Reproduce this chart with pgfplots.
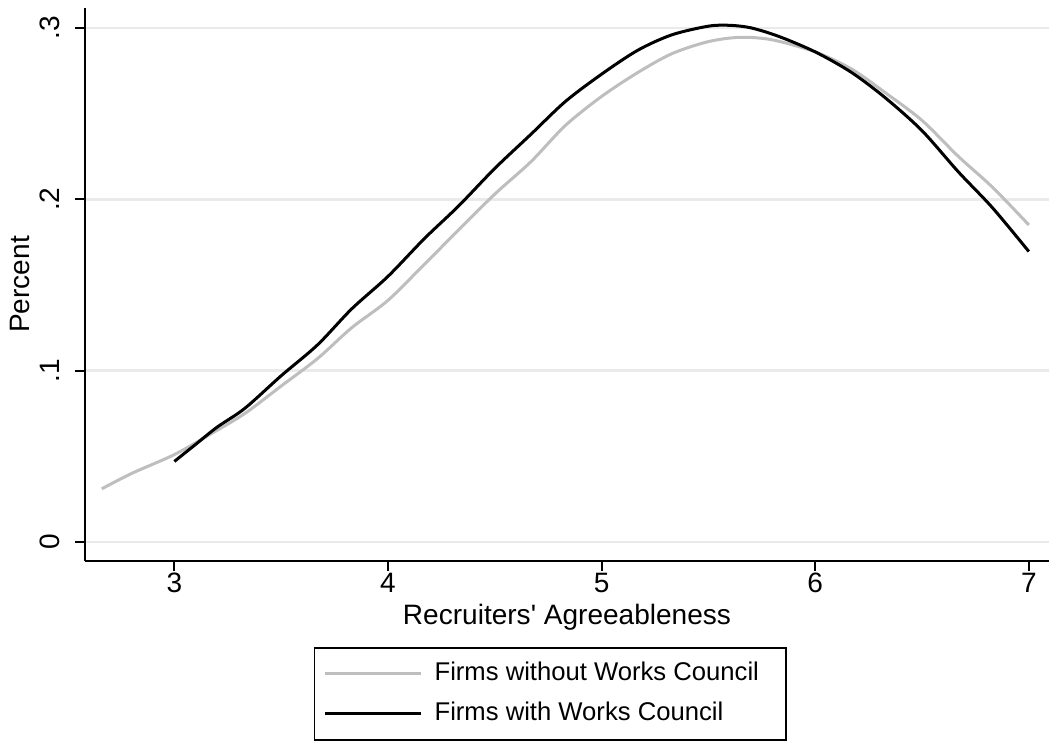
\documentclass[border=0pt]{standalone}
\usepackage{fontspec}
\setmainfont[Ligatures=TeXOff]{Liberation Sans}
\usepackage{pgfplots}
\pgfplotsset{compat=1.18}
\definecolor{lgray}{RGB}{190,190,190}
\definecolor{gridc}{RGB}{234,234,234}
\begin{document}
\begin{tikzpicture}
\begin{axis}[
  scale only axis,
  width=481pt, height=276pt,
  xmin=2.583, xmax=7.093,
  ymin=-0.011, ymax=0.3116,
  axis x line*=bottom, axis y line*=left,
  axis line style={line width=1pt, black, -},
  every outer x axis line/.append style={-},
  every outer y axis line/.append style={-},
  xtick={3,4,5,6,7},
  ytick={0,0.1,0.2,0.3},
  yticklabels={0,.1,.2,.3},
  tick align=outside,
  major tick length=5pt,
  tick style={line width=1pt, black},
  /pgf/number format/assume math mode=true,
  ymajorgrids,
  grid style={gridc, line width=1.3pt},
  ticklabel style={font=\fontsize{14}{16}\selectfont},
  yticklabel style={rotate=90, anchor=south, inner sep=0pt, yshift=7.5pt},
  xticklabel style={inner sep=0pt, yshift=-1pt},
  label style={font=\fontsize{14}{16}\selectfont},
  xlabel={Recruiters' Agreeableness},
  ylabel={Percent},
  xlabel style={inner sep=0pt, yshift=-5.5pt},
  ylabel style={inner xsep=0pt, inner ysep=5pt, yshift=0pt},
  legend style={at={(0.237,0)}, anchor=north west, yshift=-43pt, draw=black, line width=0.8pt,
    font=\fontsize{12.8}{15}\selectfont, row sep=8pt, inner xsep=4.5pt, inner ysep=7pt,
    nodes={inner sep=0pt, text height=9.2pt, text depth=2.8pt}},
  legend cell align=left,
  legend image code/.code={\draw[#1] (0pt,0pt) -- (48pt,0pt); \path (54pt,0pt);},
]
\addplot[lgray, line width=1.5pt, smooth] coordinates {
(2.66,0.031) (2.8,0.040) (3.0,0.051) (3.17,0.063) (3.33,0.075) (3.5,0.091)
(3.67,0.107) (3.83,0.125) (4.0,0.141) (4.17,0.162) (4.33,0.182) (4.5,0.203)
(4.67,0.222) (4.83,0.243) (5.0,0.260) (5.17,0.274) (5.33,0.285) (5.5,0.292)
(5.65,0.2945) (5.8,0.293) (6.0,0.286) (6.17,0.276) (6.33,0.262) (6.5,0.246)
(6.67,0.225) (6.83,0.207) (7.0,0.185)
};
\addlegendentry{Firms without Works Council\kern9pt}
\addplot[black, line width=1.5pt, smooth] coordinates {
(3.0,0.047) (3.1,0.057) (3.2,0.067) (3.33,0.078) (3.5,0.097) (3.67,0.115)
(3.83,0.136) (4.0,0.155) (4.17,0.177) (4.33,0.196) (4.5,0.218) (4.67,0.238)
(4.83,0.257) (5.0,0.273) (5.17,0.287) (5.33,0.296) (5.5,0.301) (5.6,0.3015)
(5.7,0.300) (5.83,0.295) (6.0,0.286) (6.17,0.274) (6.33,0.259) (6.5,0.240)
(6.67,0.216) (6.83,0.195) (7.0,0.1695)
};
\addlegendentry{Firms with Works Council}
\end{axis}
\path ([yshift=4pt]current axis.north west);
\end{tikzpicture}
\end{document}
